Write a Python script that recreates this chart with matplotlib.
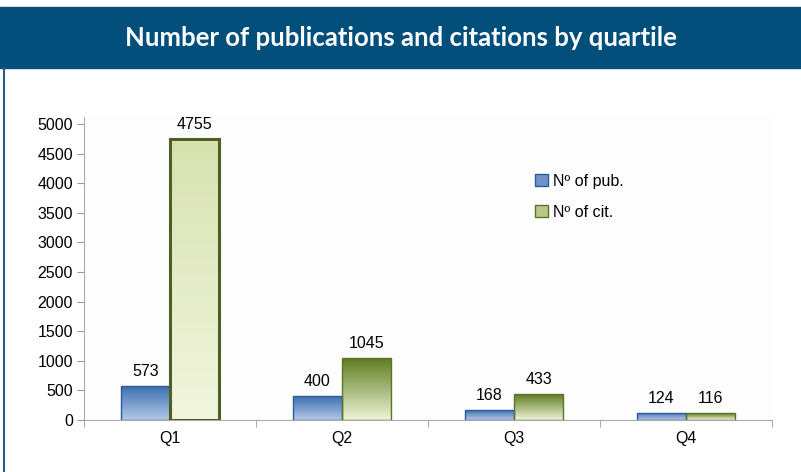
import numpy as np
import matplotlib
matplotlib.use('Agg')
import matplotlib.pyplot as plt
from matplotlib.colors import to_rgb
from matplotlib.patches import Patch

quartiles = ['Q1', 'Q2', 'Q3', 'Q4']
pubs = [573, 400, 168, 124]
cits = [4755, 1045, 433, 116]
series_names = ['N\u00ba of pub.', 'N\u00ba of cit.']
title = 'Number of publications and citations by quartile'

plt.rcParams['font.family'] = ['Liberation Sans', 'DejaVu Sans']

fig = plt.figure(figsize=(8.01, 4.72), dpi=100)

# header band
fig.patches.append(plt.Rectangle((0, 1 - 68/472), 1, 61/472, transform=fig.transFigure,
                                 color='#034f7c', zorder=0))
fig.text(0.5, 1 - 38/472, title, color='white', ha='center', va='center',
         fontsize=18.5, fontweight='bold', family=['Lato', 'DejaVu Sans'])
# left border
fig.add_artist(plt.Line2D([3.5/801, 3.5/801], [0, 1 - 68/472], transform=fig.transFigure,
                          color='#1f5d8a', lw=1.5))

ax = fig.add_axes([84/801, 1 - 420/472, 688/801, 303/472])
x = np.arange(len(quartiles))
w = 0.285
b1 = ax.bar(x - w/2, pubs, w, color='none', edgecolor='#2d5a9a', lw=1.0, label=series_names[0], zorder=3)
b2 = ax.bar(x + w/2, cits, w, color='none', edgecolor='#5b7423', lw=1.0, label=series_names[1], zorder=3)
b2[0].set_linewidth(2.2)
b2[0].set_edgecolor('#4e5f25')

def fill_gradient(bar, top, bottom):
    x0, y0 = bar.get_x(), bar.get_y()
    bw, bh = bar.get_width(), bar.get_height()
    t = np.linspace(0, 1, 64)[:, None]
    c1, c2 = np.array(to_rgb(top)), np.array(to_rgb(bottom))
    img = (c1 * (1 - t) + c2 * t)[:, None, :]
    im = ax.imshow(img, extent=(x0, x0 + bw, y0, y0 + bh), aspect='auto', origin='upper', zorder=2)
    im.set_clip_path(bar)

for bar in b1:
    fill_gradient(bar, '#3f6fb0', '#b3c8e6')
for i, bar in enumerate(b2):
    if i == 0:
        fill_gradient(bar, '#d8e2b0', '#f1f5de')
    else:
        fill_gradient(bar, '#5f7d22', '#eef3d6')

for bars, vals in [(b1, pubs), (b2, cits)]:
    for bar, v in zip(bars, vals):
        ax.annotate(str(v), (bar.get_x() + bar.get_width()/2, v), xytext=(0, 5),
                    textcoords='offset points', ha='center', va='bottom', fontsize=11.5)

ax.set_xlim(-0.5, 3.5)
ax.set_ylim(0, 5120)
ax.set_yticks(range(0, 5001, 500))
ax.set_xticks(x)
ax.set_xticklabels(quartiles)
ax.set_xticks(np.arange(-0.5, 4.0, 1), minor=True)
ax.tick_params(axis='x', which='major', length=0, labelsize=11.5, pad=8)
ax.tick_params(axis='x', which='minor', length=5, color='#999999', direction='out')
ax.tick_params(axis='y', length=5, color='#999999', labelsize=11.5, pad=3)
for s in ['top', 'right']:
    ax.spines[s].set_visible(False)
for s in ['left', 'bottom']:
    ax.spines[s].set_color('#aaaaaa')
ax.set_facecolor('#fdfdfd')

handles = [Patch(facecolor='#6f93c8', edgecolor='#2d5a9a'), Patch(facecolor='#b8c98a', edgecolor='#5b7423')]
ax.legend(handles, series_names, loc='upper left', bbox_to_anchor=(0.635, 0.86), frameon=False,
          fontsize=11.5, handlelength=0.8, handleheight=0.8, handletextpad=0.3, labelspacing=1.0)

fig.savefig('out.png', dpi=100)
